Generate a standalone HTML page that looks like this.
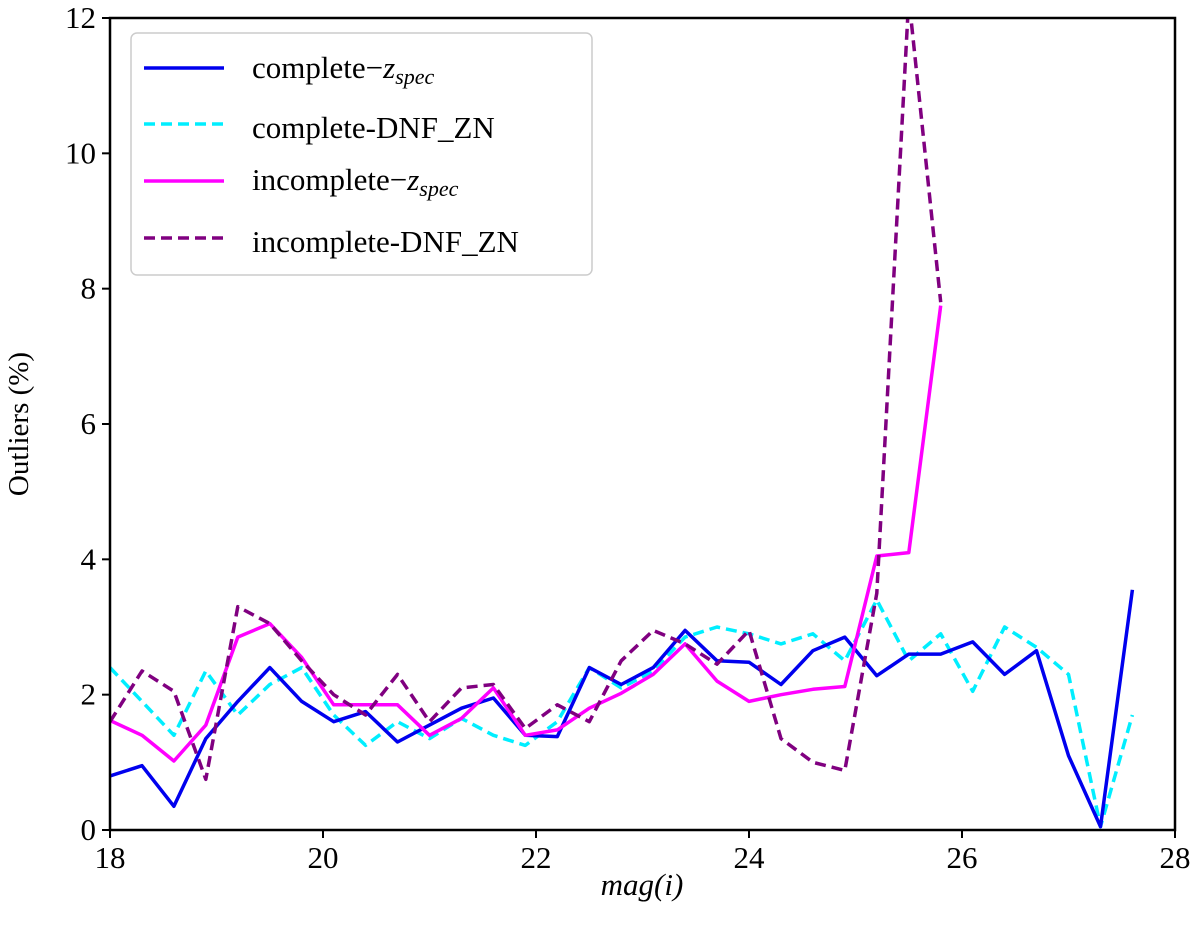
<!DOCTYPE html>
<html><head><meta charset="utf-8">
<style>
html,body{margin:0;padding:0;background:#fff;}
svg text{font-family:"Liberation Serif",serif;fill:#000;}
</style></head>
<body>
<svg id="chart" width="1200" height="944" viewBox="0 0 1200 944" xmlns="http://www.w3.org/2000/svg">
<defs><clipPath id="plotclip"><rect x="110" y="18" width="1065" height="812"/></clipPath></defs>
<g id="series" clip-path="url(#plotclip)"></g>
<rect x="110" y="18" width="1065" height="812" fill="none" stroke="#000" stroke-width="2.5"/>
<g id="axes"></g>
<text x="642" y="895" font-size="31" text-anchor="middle" font-style="italic">mag(<tspan>i</tspan>)</text>
<text transform="translate(28,424) rotate(-90)" font-size="29" text-anchor="middle">Outliers (%)</text>
<g>
<rect x="131" y="33" width="461" height="242" rx="6" fill="#fff" stroke="#ccc" stroke-width="1.5"/>
<line x1="144" y1="68" x2="224" y2="68" stroke="#0000ee" stroke-width="3.5"/>
<text x="252" y="78" font-size="31">complete−<tspan font-style="italic">z</tspan><tspan font-style="italic" font-size="22" dy="6">spec</tspan></text>
<line x1="144" y1="124" x2="224" y2="124" stroke="#00eeff" stroke-width="3.5" stroke-dasharray="11,6"/>
<text x="252" y="138" font-size="31">complete-DNF_ZN</text>
<line x1="144" y1="181" x2="224" y2="181" stroke="#ff00ff" stroke-width="3.5"/>
<text x="252" y="190" font-size="31">incomplete−<tspan font-style="italic">z</tspan><tspan font-style="italic" font-size="22" dy="6">spec</tspan></text>
<line x1="144" y1="238" x2="224" y2="238" stroke="#800080" stroke-width="3.5" stroke-dasharray="11,6"/>
<text x="252" y="252" font-size="31">incomplete-DNF_ZN</text>
</g>
</svg>
<script>
const mags = [18.0,18.3,18.6,18.9,19.2,19.5,19.8,20.1,20.4,20.7,21.0,21.3,21.6,21.9,22.2,22.5,22.8,23.1,23.4,23.7,24.0,24.3,24.6,24.9,25.2,25.5,25.8,26.1,26.4,26.7,27.0,27.3,27.6];
const completeZspec = [0.8,0.95,0.35,1.35,1.9,2.4,1.9,1.6,1.75,1.3,1.55,1.8,1.95,1.4,1.38,2.4,2.15,2.4,2.95,2.5,2.48,2.15,2.65,2.85,2.28,2.6,2.6,2.78,2.3,2.65,1.1,0.05,3.55];
const completeDnf = [2.4,1.9,1.4,2.35,1.7,2.15,2.4,1.7,1.25,1.6,1.35,1.65,1.4,1.25,1.6,2.4,2.1,2.35,2.85,3.0,2.9,2.75,2.9,2.5,3.4,2.5,2.9,2.05,3.0,2.7,2.3,0.05,1.7];
const incompleteZspec = [1.62,1.4,1.02,1.55,2.85,3.05,2.55,1.85,1.85,1.85,1.4,1.65,2.1,1.4,1.48,1.8,2.02,2.3,2.75,2.2,1.9,2.0,2.08,2.12,4.05,4.1,7.75];
const incompleteDnf = [1.6,2.35,2.05,0.75,3.3,3.05,2.5,2.0,1.7,2.3,1.6,2.1,2.15,1.5,1.85,1.6,2.5,2.95,2.75,2.45,2.95,1.35,1.0,0.88,3.5,12.3,7.8];
const xTicks = [18,20,22,24,26,28];
const yTicks = [0,2,4,6,8,10,12];

const X0=110,X1=1175,Y0=830,Y1=18;
const xs = v => X0 + (v-18)/(28-18)*(X1-X0);
const ys = v => Y0 - v/12*(Y0-Y1);
const NS="http://www.w3.org/2000/svg";
const g=document.getElementById('series'), ax=document.getElementById('axes');
function line(vals,color,dash,name){
  const p=document.createElementNS(NS,'polyline');
  p.setAttribute('points',vals.map((v,i)=>xs(mags[i]).toFixed(1)+','+ys(v).toFixed(1)).join(' '));
  p.setAttribute('fill','none');p.setAttribute('stroke',color);p.setAttribute('stroke-width','3.5');
  p.setAttribute('stroke-linejoin','round');
  if(dash)p.setAttribute('stroke-dasharray','11,6');
  
  
  g.appendChild(p);
}
line(completeDnf,'#00eeff',true,'series-complete-dnf');
line(completeZspec,'#0000ee',false,'series-complete-zspec');
line(incompleteZspec,'#ff00ff',false,'series-incomplete-zspec');
line(incompleteDnf,'#800080',true,'series-incomplete-dnf');
xTicks.forEach(t=>{
  const x=xs(t);
  const l=document.createElementNS(NS,'line');
  l.setAttribute('x1',x);l.setAttribute('x2',x);l.setAttribute('y1',Y0);l.setAttribute('y2',Y0+8);
  l.setAttribute('stroke','#000');l.setAttribute('stroke-width','2');
  
  
  ax.appendChild(l);
  const tx=document.createElementNS(NS,'text');
  tx.setAttribute('x',x);tx.setAttribute('y',Y0+38);tx.setAttribute('font-size','31');tx.setAttribute('text-anchor','middle');
  tx.textContent=t;
  
  
  ax.appendChild(tx);
});
yTicks.forEach(t=>{
  const y=ys(t);
  const l=document.createElementNS(NS,'line');
  l.setAttribute('x1',X0-8);l.setAttribute('x2',X0);l.setAttribute('y1',y);l.setAttribute('y2',y);
  l.setAttribute('stroke','#000');l.setAttribute('stroke-width','2');
  
  
  ax.appendChild(l);
  const tx=document.createElementNS(NS,'text');
  tx.setAttribute('x',X0-14);tx.setAttribute('y',y+10);tx.setAttribute('font-size','31');tx.setAttribute('text-anchor','end');
  tx.textContent=t;
  
  
  ax.appendChild(tx);
});
</script>
</body></html>
